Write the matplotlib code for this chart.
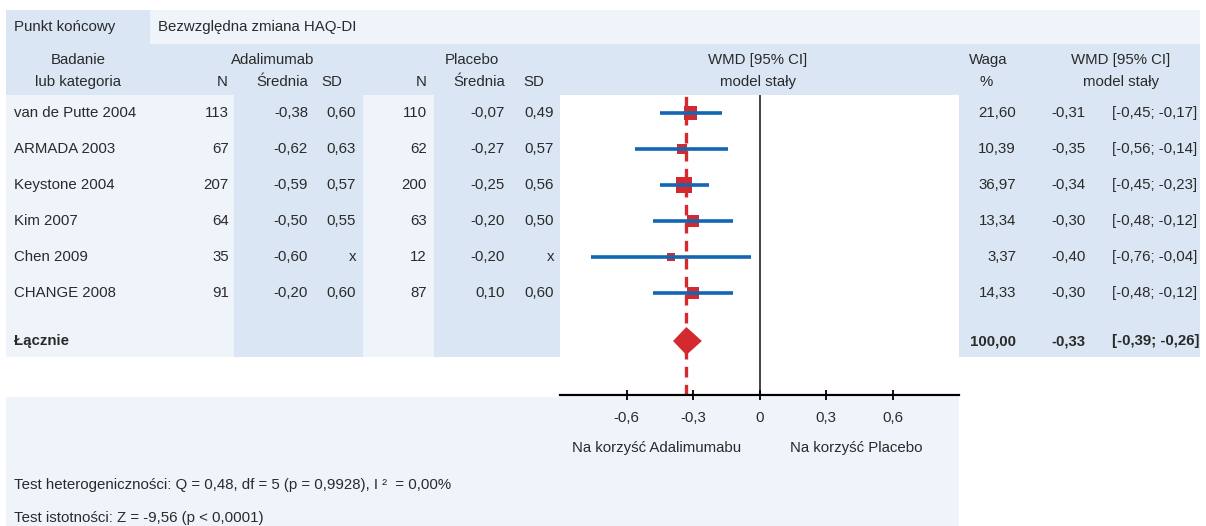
import matplotlib.pyplot as plt
from matplotlib.patches import Rectangle, Polygon
import numpy as np

plt.rcParams['font.family'] = ['Liberation Sans', 'DejaVu Sans']

# data
studies = ["van de Putte 2004", "ARMADA 2003", "Keystone 2004", "Kim 2007", "Chen 2009", "CHANGE 2008"]
ada_n = ["113", "67", "207", "64", "35", "91"]
ada_mean = ["-0,38", "-0,62", "-0,59", "-0,50", "-0,60", "-0,20"]
ada_sd = ["0,60", "0,63", "0,57", "0,55", "x", "0,60"]
pla_n = ["110", "62", "200", "63", "12", "87"]
pla_mean = ["-0,07", "-0,27", "-0,25", "-0,20", "-0,20", "0,10"]
pla_sd = ["0,49", "0,57", "0,56", "0,50", "x", "0,60"]
weights = [21.60, 10.39, 36.97, 13.34, 3.37, 14.33]
wmd = [-0.31, -0.35, -0.34, -0.30, -0.40, -0.30]
ci_low = [-0.45, -0.56, -0.45, -0.48, -0.76, -0.48]
ci_high = [-0.17, -0.14, -0.23, -0.12, -0.04, -0.12]
total_weight = 100.00
total_wmd = -0.33
total_low = -0.39
total_high = -0.26
x_ticks = [-0.6, -0.3, 0, 0.3, 0.6]

def fmt(v):
    return f"{v:.2f}".replace(".", ",")

W, H = 1206, 526
fig = plt.figure(figsize=(W / 100, H / 100), dpi=100)

# background / table axes in pixel coordinates
bg = fig.add_axes([0, 0, 1, 1])
bg.set_xlim(0, W)
bg.set_ylim(H, 0)
bg.axis('off')

dark = '#dae6f3'
light = '#eff4fa'

def box(x0, y0, x1, y1, c):
    bg.add_patch(Rectangle((x0, y0), x1 - x0, y1 - y0, facecolor=c, edgecolor='none', zorder=0))

box(6, 10, 150, 44, dark)
box(150, 10, 1200, 44, light)
box(6, 44, 1200, 95, dark)
box(6, 95, 560, 357, light)
box(234, 95, 363, 357, dark)
box(434, 95, 560, 357, dark)
box(959, 95, 1200, 357, dark)
box(6, 397, 959, 526, light)

fs = 10.8
tc = '#2a2a2a'
bg.text(14, 27, "Punkt końcowy", fontsize=fs, va='center', color=tc)
bg.text(158, 27, "Bezwzględna zmiana HAQ-DI", fontsize=fs, va='center', color=tc)

h1, h2 = 60, 82
bg.text(78, h1, "Badanie", fontsize=fs, ha='center', va='center', color=tc)
bg.text(78, h2, "lub kategoria", fontsize=fs, ha='center', va='center', color=tc)
bg.text(273, h1, "Adalimumab", fontsize=fs, ha='center', va='center', color=tc)
bg.text(472, h1, "Placebo", fontsize=fs, ha='center', va='center', color=tc)
bg.text(228, h2, "N", fontsize=fs, ha='right', va='center', color=tc)
bg.text(308, h2, "Średnia", fontsize=fs, ha='right', va='center', color=tc)
bg.text(321, h2, "SD", fontsize=fs, ha='left', va='center', color=tc)
bg.text(427, h2, "N", fontsize=fs, ha='right', va='center', color=tc)
bg.text(505, h2, "Średnia", fontsize=fs, ha='right', va='center', color=tc)
bg.text(523, h2, "SD", fontsize=fs, ha='left', va='center', color=tc)
bg.text(758, h1, "WMD [95% CI]", fontsize=fs, ha='center', va='center', color=tc)
bg.text(758, h2, "model stały", fontsize=fs, ha='center', va='center', color=tc)
bg.text(988, h1, "Waga", fontsize=fs, ha='center', va='center', color=tc)
bg.text(986, h2, "%", fontsize=fs, ha='center', va='center', color=tc)
bg.text(1121, h1, "WMD [95% CI]", fontsize=fs, ha='center', va='center', color=tc)
bg.text(1121, h2, "model stały", fontsize=fs, ha='center', va='center', color=tc)

row0, step = 113, 36
for i in range(len(studies)):
    y = row0 + step * i
    bg.text(14, y, studies[i], fontsize=fs, va='center', color=tc)
    bg.text(229, y, ada_n[i], fontsize=fs, ha='right', va='center', color=tc)
    bg.text(308, y, ada_mean[i], fontsize=fs, ha='right', va='center', color=tc)
    bg.text(356, y, ada_sd[i], fontsize=fs, ha='right', va='center', color=tc)
    bg.text(427, y, pla_n[i], fontsize=fs, ha='right', va='center', color=tc)
    bg.text(505, y, pla_mean[i], fontsize=fs, ha='right', va='center', color=tc)
    bg.text(554, y, pla_sd[i], fontsize=fs, ha='right', va='center', color=tc)
    bg.text(1016, y, fmt(weights[i]), fontsize=fs, ha='right', va='center', color=tc)
    bg.text(1051, y, fmt(wmd[i]), fontsize=fs, ha='left', va='center', color=tc)
    bg.text(1112, y, f"[{fmt(ci_low[i])}; {fmt(ci_high[i])}]", fontsize=fs, ha='left', va='center', color=tc)

ys = 341
bg.text(14, ys, "Łącznie", fontsize=fs, va='center', fontweight='bold', color=tc)
bg.text(1016, ys, fmt(total_weight), fontsize=fs, ha='right', va='center', fontweight='bold', color=tc)
bg.text(1051, ys, fmt(total_wmd), fontsize=fs, ha='left', va='center', fontweight='bold', color=tc)
bg.text(1112, ys, f"[{fmt(total_low)}; {fmt(total_high)}]", fontsize=fs, ha='left', va='center',
        fontweight='bold', color=tc)

bg.text(14, 485, "Test heterogeniczności: Q = 0,48, df = 5 (p = 0,9928), I ²  = 0,00%",
        fontsize=fs, va='center', color=tc)
bg.text(14, 518, "Test istotności: Z = -9,56 (p < 0,0001)", fontsize=fs, va='center', color=tc)
bg.text(657, 448, "Na korzyść Adalimumabu", fontsize=fs, ha='center', va='center', color=tc)
bg.text(856, 448, "Na korzyść Placebo", fontsize=fs, ha='center', va='center', color=tc)

# forest plot axes: x 560..959 px, y 95..395 px
fx0, fx1, fy0, fy1 = 560, 959, 95, 395
ax = fig.add_axes([fx0 / W, 1 - fy1 / H, (fx1 - fx0) / W, (fy1 - fy0) / H])
ax.patch.set_alpha(0)
ax.set_xlim(-0.9, 0.9)
top = -(row0 - fy0) / step
bottom = (fy1 - row0) / step
ax.set_ylim(bottom, top)
for s in ['top', 'right', 'left']:
    ax.spines[s].set_visible(False)
ax.spines['bottom'].set_linewidth(1.6)
ax.set_yticks([])
ax.set_xticks(x_ticks)
ax.set_xticklabels([fmt(t)[:-1] if t != 0 else "0" for t in x_ticks], fontsize=fs, color=tc)
ax.tick_params(axis='x', direction='inout', length=7, width=1.3, pad=8)

red = '#d42a2f'
blue = '#1366b3'
rows = np.arange(len(studies))
ax.axvline(0, color='#222222', lw=1.2, zorder=1)
ax.axvline(total_wmd, color=red, lw=2.4, ls=(0, (3.2, 2.2)), zorder=1)
# square side in px grows with sqrt(weight), converted to points
side_px = 2.0 * np.sqrt(np.array(weights)) + 3.8
side_pt = side_px * 72 / 100
ax.scatter(wmd, rows, marker='s', s=side_pt ** 2, color=red, zorder=2, linewidths=0)
ax.hlines(rows, ci_low, ci_high, color=blue, lw=2.6, zorder=3)
sy = (ys - row0) / step
dh = 14 / step
ax.add_patch(Polygon([[total_low, sy], [total_wmd, sy - dh], [total_high, sy], [total_wmd, sy + dh]],
                     closed=True, facecolor=red, edgecolor='none', zorder=4))

fig.savefig('out.png', dpi=100)
